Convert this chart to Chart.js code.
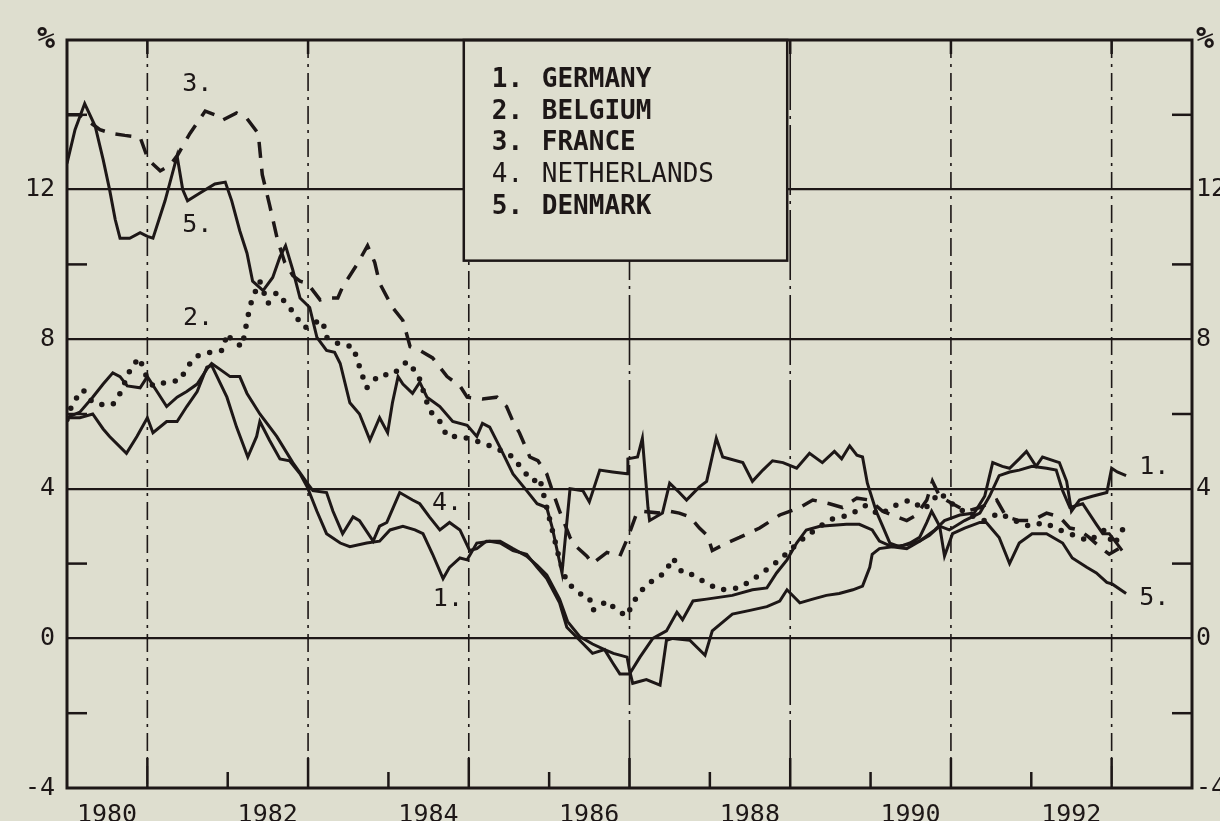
<!DOCTYPE html>
<html>
<head>
<meta charset="utf-8">
<script src="https://cdn.jsdelivr.net/npm/chart.js@4.4.1/dist/chart.umd.min.js"></script>
<style>
  html, body { margin: 0; padding: 0; background: #dedecf; }
  #wrap { width: 1220px; height: 821px; }
</style>
</head>
<body>
<div id="wrap"><canvas id="chart" width="1220" height="821"></canvas></div>
<script>
// [year, %] pairs
const germany = [
  [1980.00, 5.9], [1980.16, 5.9], [1980.32, 6.0], [1980.45, 5.6], [1980.53, 5.4], [1980.74, 4.95],
  [1980.87, 5.4], [1981.00, 5.9], [1981.07, 5.5], [1981.24, 5.8], [1981.37, 5.8], [1981.49, 6.2],
  [1981.62, 6.6], [1981.74, 7.25], [1981.80, 7.3], [1981.99, 6.45], [1982.11, 5.65], [1982.25, 4.85],
  [1982.36, 5.4], [1982.40, 5.8], [1982.52, 5.3], [1982.65, 4.8], [1982.77, 4.75], [1982.90, 4.4],
  [1982.99, 4.05], [1983.11, 3.4], [1983.23, 2.8], [1983.40, 2.55], [1983.52, 2.45], [1983.73, 2.55],
  [1983.89, 2.6], [1984.02, 2.9], [1984.18, 3.0], [1984.33, 2.9], [1984.43, 2.8], [1984.55, 2.25],
  [1984.68, 1.6], [1984.76, 1.9], [1984.89, 2.15], [1984.98, 2.1], [1985.10, 2.55], [1985.26, 2.6],
  [1985.39, 2.55], [1985.55, 2.35], [1985.72, 2.25], [1985.85, 1.9], [1985.97, 1.6], [1986.13, 0.95],
  [1986.22, 0.3], [1986.38, -0.05], [1986.54, -0.4], [1986.69, -0.3], [1986.79, -0.65], [1986.88, -0.95],
  [1987.00, -0.95], [1987.13, -0.5], [1987.29, 0.0], [1987.46, 0.2], [1987.59, 0.7], [1987.66, 0.5],
  [1987.79, 1.0], [1987.96, 1.05], [1988.28, 1.15], [1988.53, 1.3], [1988.71, 1.35], [1988.83, 1.75],
  [1988.96, 2.1], [1989.08, 2.55], [1989.20, 2.9], [1989.37, 3.0], [1989.70, 3.05], [1989.86, 3.05],
  [1990.02, 2.9], [1990.11, 2.6], [1990.27, 2.45], [1990.45, 2.4], [1990.61, 2.6], [1990.80, 2.9],
  [1990.92, 3.15], [1991.11, 3.3], [1991.29, 3.35], [1991.42, 3.8], [1991.52, 4.7], [1991.64, 4.6],
  [1991.73, 4.55], [1991.85, 4.8], [1991.94, 5.0], [1992.06, 4.6], [1992.14, 4.85], [1992.35, 4.7],
  [1992.44, 4.2], [1992.50, 3.4], [1992.60, 3.7], [1992.76, 3.8], [1992.94, 3.9], [1993.00, 4.55],
  [1993.07, 4.45], [1993.18, 4.35]
];

const belgium = [
  [1980.00, 5.85], [1980.07, 6.3], [1980.20, 6.65], [1980.32, 6.3], [1980.45, 6.25], [1980.57, 6.25],
  [1980.66, 6.55], [1980.81, 7.3], [1980.91, 7.5], [1980.95, 7.15], [1981.07, 6.75], [1981.24, 6.85],
  [1981.41, 6.9], [1981.49, 7.25], [1981.62, 7.55], [1981.78, 7.65], [1981.94, 7.7], [1981.99, 8.15],
  [1982.06, 7.95], [1982.18, 7.8], [1982.25, 8.6], [1982.30, 9.05], [1982.40, 9.55], [1982.50, 8.95],
  [1982.61, 9.25], [1982.77, 8.85], [1982.90, 8.45], [1982.96, 8.3], [1983.08, 8.45], [1983.18, 8.5],
  [1983.23, 8.05], [1983.40, 7.85], [1983.56, 7.8], [1983.68, 7.0], [1983.73, 6.7], [1983.89, 7.05],
  [1984.05, 7.05], [1984.23, 7.4], [1984.37, 7.05], [1984.51, 6.1], [1984.64, 5.8], [1984.73, 5.4],
  [1984.89, 5.4], [1985.07, 5.3], [1985.26, 5.15], [1985.42, 5.0], [1985.55, 4.85], [1985.67, 4.5],
  [1985.80, 4.2], [1985.88, 4.3], [1986.01, 3.15], [1986.13, 2.1], [1986.22, 1.5], [1986.38, 1.2],
  [1986.50, 1.1], [1986.54, 0.75], [1986.72, 1.0], [1986.84, 0.75], [1986.97, 0.6], [1987.04, 0.95],
  [1987.16, 1.3], [1987.29, 1.55], [1987.44, 1.75], [1987.54, 2.15], [1987.66, 1.75], [1987.79, 1.7],
  [1987.94, 1.5], [1988.12, 1.3], [1988.37, 1.35], [1988.62, 1.7], [1988.87, 2.1], [1989.12, 2.6],
  [1989.37, 3.0], [1989.53, 3.2], [1989.74, 3.3], [1989.93, 3.55], [1990.11, 3.3], [1990.30, 3.55],
  [1990.49, 3.7], [1990.67, 3.45], [1990.86, 3.9], [1991.04, 3.55], [1991.23, 3.3], [1991.42, 3.15],
  [1991.60, 3.35], [1991.79, 3.15], [1991.98, 3.0], [1992.16, 3.1], [1992.35, 2.9], [1992.54, 2.75],
  [1992.72, 2.6], [1992.91, 2.9], [1993.03, 2.5], [1993.16, 3.0]
];

const france = [
  [1980.00, 14.0], [1980.16, 14.0], [1980.41, 13.6], [1980.56, 13.5], [1980.72, 13.45], [1980.91, 13.4],
  [1981.01, 12.8], [1981.16, 12.5], [1981.28, 12.65], [1981.37, 12.9], [1981.53, 13.5], [1981.72, 14.1],
  [1981.84, 14.0], [1981.93, 13.85], [1982.11, 14.05], [1982.24, 13.9], [1982.38, 13.5], [1982.43, 12.4],
  [1982.52, 11.6], [1982.62, 10.65], [1982.71, 10.05], [1982.81, 9.7], [1982.90, 9.55], [1982.99, 9.5],
  [1983.15, 9.05], [1983.23, 9.1], [1983.37, 9.1], [1983.43, 9.4], [1983.61, 10.0], [1983.74, 10.5],
  [1983.83, 10.05], [1983.89, 9.5], [1984.05, 8.85], [1984.18, 8.5], [1984.27, 7.8], [1984.39, 7.7],
  [1984.55, 7.5], [1984.73, 7.0], [1984.89, 6.75], [1984.98, 6.45], [1985.17, 6.4], [1985.35, 6.45],
  [1985.47, 6.2], [1985.55, 5.8], [1985.63, 5.5], [1985.76, 4.85], [1985.86, 4.75], [1985.97, 4.4],
  [1986.04, 3.95], [1986.13, 3.4], [1986.26, 2.7], [1986.34, 2.45], [1986.47, 2.2], [1986.54, 2.0],
  [1986.72, 2.3], [1986.88, 2.2], [1986.98, 2.7], [1987.09, 3.35], [1987.16, 3.4], [1987.38, 3.35],
  [1987.50, 3.4], [1987.62, 3.35], [1987.75, 3.25], [1987.87, 2.95], [1987.97, 2.75], [1988.03, 2.35],
  [1988.21, 2.55], [1988.37, 2.7], [1988.62, 2.95], [1988.87, 3.3], [1989.12, 3.5], [1989.28, 3.7],
  [1989.49, 3.6], [1989.65, 3.5], [1989.83, 3.75], [1989.99, 3.7], [1990.15, 3.4], [1990.27, 3.3],
  [1990.45, 3.15], [1990.57, 3.3], [1990.70, 3.7], [1990.77, 4.2], [1990.86, 3.8], [1991.02, 3.6],
  [1991.19, 3.4], [1991.36, 3.5], [1991.57, 3.7], [1991.69, 3.25], [1991.85, 3.15], [1992.01, 3.15],
  [1992.19, 3.35], [1992.35, 3.25], [1992.48, 2.95], [1992.60, 2.9], [1992.72, 2.7], [1992.85, 2.45],
  [1992.97, 2.25], [1993.13, 2.45]
];

const netherlands = [
  [1980.00, 5.9], [1980.16, 6.05], [1980.32, 6.45], [1980.45, 6.8], [1980.57, 7.1], [1980.66, 7.0],
  [1980.75, 6.75], [1980.91, 6.7], [1981.00, 7.0], [1981.12, 6.6], [1981.24, 6.2], [1981.37, 6.45],
  [1981.49, 6.6], [1981.62, 6.8], [1981.74, 7.2], [1981.80, 7.35], [1981.90, 7.2], [1982.03, 7.0],
  [1982.15, 7.0], [1982.24, 6.55], [1982.40, 6.0], [1982.61, 5.4], [1982.81, 4.7], [1982.99, 4.15],
  [1983.06, 3.95], [1983.23, 3.9], [1983.31, 3.4], [1983.43, 2.8], [1983.56, 3.25], [1983.64, 3.15],
  [1983.81, 2.6], [1983.89, 3.0], [1983.98, 3.1], [1984.14, 3.9], [1984.30, 3.7], [1984.39, 3.6],
  [1984.51, 3.25], [1984.64, 2.9], [1984.76, 3.1], [1984.89, 2.9], [1985.01, 2.35], [1985.10, 2.4],
  [1985.22, 2.6], [1985.39, 2.6], [1985.55, 2.4], [1985.72, 2.2], [1985.85, 1.95], [1985.97, 1.7],
  [1986.13, 1.05], [1986.23, 0.45], [1986.38, 0.05], [1986.54, -0.15], [1986.69, -0.3], [1986.80, -0.4],
  [1986.97, -0.5], [1987.00, -0.85], [1987.04, -1.2], [1987.21, -1.1], [1987.38, -1.25], [1987.46, -0.05],
  [1987.54, 0.0], [1987.75, -0.05], [1987.94, -0.45], [1988.03, 0.2], [1988.28, 0.65], [1988.50, 0.75],
  [1988.71, 0.85], [1988.87, 1.0], [1988.96, 1.3], [1989.12, 0.95], [1989.28, 1.05], [1989.45, 1.15],
  [1989.61, 1.2], [1989.78, 1.3], [1989.90, 1.4], [1989.99, 1.9], [1990.02, 2.25], [1990.11, 2.4],
  [1990.27, 2.45], [1990.45, 2.5], [1990.61, 2.6], [1990.73, 2.75], [1990.86, 3.0], [1990.98, 2.9],
  [1991.17, 3.15], [1991.36, 3.35], [1991.48, 3.8], [1991.60, 4.35], [1991.73, 4.45], [1991.85, 4.5],
  [1992.01, 4.6], [1992.19, 4.55], [1992.31, 4.5], [1992.39, 3.95], [1992.48, 3.5], [1992.64, 3.6],
  [1992.81, 3.05], [1992.89, 2.8], [1992.97, 2.8], [1993.06, 2.55], [1993.13, 2.35]
];

const denmark = [
  [1980.00, 12.7], [1980.10, 13.6], [1980.22, 14.3], [1980.35, 13.7], [1980.45, 12.8], [1980.53, 12.0],
  [1980.60, 11.2], [1980.66, 10.7], [1980.78, 10.7], [1980.91, 10.85], [1981.00, 10.75], [1981.07, 10.7],
  [1981.22, 11.7], [1981.37, 12.9], [1981.44, 12.0], [1981.50, 11.7], [1981.65, 11.9], [1981.84, 12.15],
  [1981.97, 12.2], [1982.05, 11.7], [1982.15, 10.9], [1982.24, 10.3], [1982.31, 9.55], [1982.44, 9.3],
  [1982.56, 9.65], [1982.65, 10.2], [1982.72, 10.5], [1982.81, 9.85], [1982.90, 9.1], [1983.02, 8.85],
  [1983.11, 8.05], [1983.23, 7.7], [1983.33, 7.65], [1983.40, 7.35], [1983.52, 6.3], [1983.64, 6.0],
  [1983.77, 5.3], [1983.89, 5.9], [1983.99, 5.5], [1984.05, 6.3], [1984.12, 7.0], [1984.18, 6.8],
  [1984.30, 6.55], [1984.39, 6.85], [1984.48, 6.45], [1984.64, 6.2], [1984.80, 5.8], [1984.98, 5.7],
  [1985.10, 5.4], [1985.17, 5.75], [1985.26, 5.65], [1985.39, 5.1], [1985.55, 4.4], [1985.72, 3.95],
  [1985.85, 3.6], [1985.97, 3.5], [1986.04, 2.95], [1986.16, 1.75], [1986.26, 4.0], [1986.42, 3.95],
  [1986.50, 3.65], [1986.63, 4.5], [1986.79, 4.45], [1986.97, 4.4], [1986.98, 4.8], [1987.10, 4.85],
  [1987.16, 5.35], [1987.23, 3.5], [1987.25, 3.15], [1987.41, 3.35], [1987.50, 4.15], [1987.62, 3.9],
  [1987.71, 3.7], [1987.87, 4.05], [1987.96, 4.2], [1988.08, 5.35], [1988.16, 4.85], [1988.41, 4.7],
  [1988.53, 4.2], [1988.66, 4.5], [1988.78, 4.75], [1988.91, 4.7], [1989.08, 4.55], [1989.24, 4.95],
  [1989.40, 4.7], [1989.55, 5.0], [1989.64, 4.8], [1989.74, 5.15], [1989.83, 4.9], [1989.90, 4.85],
  [1989.96, 4.15], [1990.07, 3.4], [1990.15, 3.0], [1990.24, 2.55], [1990.36, 2.45], [1990.49, 2.55],
  [1990.61, 2.7], [1990.70, 3.1], [1990.76, 3.4], [1990.86, 3.0], [1990.92, 2.2], [1991.02, 2.8],
  [1991.17, 2.95], [1991.36, 3.1], [1991.44, 3.1], [1991.60, 2.7], [1991.73, 2.0], [1991.85, 2.55],
  [1992.01, 2.8], [1992.19, 2.8], [1992.39, 2.55], [1992.51, 2.15], [1992.69, 1.9], [1992.81, 1.75],
  [1992.94, 1.5], [1993.01, 1.45], [1993.18, 1.2]
];

const legendNames = ['GERMANY', 'BELGIUM', 'FRANCE', 'NETHERLANDS', 'DENMARK'];
const yearLabels = [1980, 1982, 1984, 1986, 1988, 1990, 1992];

// curve numbers written next to the lines
const curveMarks = [
  { text: '3.', x: 1981.62, y: 14.8 },
  { text: '5.', x: 1981.62, y: 11.05 },
  { text: '2.', x: 1981.63, y: 8.55 },
  { text: '4.', x: 1984.73, y: 3.6 },
  { text: '1.', x: 1984.74, y: 1.05 },
  { text: '1.', x: 1993.53, y: 4.57 },
  { text: '5.', x: 1993.53, y: 1.07 }
];

const ink = '#1d1717';
const paper = '#dedecf';
const mono = '"DejaVu Sans Mono", monospace';

const toXY = arr => arr.map(p => ({ x: p[0], y: p[1] }));

const solid = { borderWidth: 3, borderDash: [] };
const datasets = [
  { label: 'Germany', data: toXY(germany), ...solid },
  { label: 'Belgium', data: toXY(belgium), borderWidth: 5.5, borderDash: [0, 12], borderCapStyle: 'round' },
  { label: 'France', data: toXY(france), borderWidth: 3.5, borderDash: [16, 11] },
  { label: 'Netherlands', data: toXY(netherlands), ...solid },
  { label: 'Denmark', data: toXY(denmark), ...solid }
].map(d => ({ ...d, borderColor: ink, pointRadius: 0, tension: 0, fill: false }));

const framePlugin = {
  id: 'frame',
  beforeDatasetsDraw(chart) {
    const { ctx, chartArea: a, scales: { x, y } } = chart;
    const seg = (x1, y1, x2, y2) => { ctx.beginPath(); ctx.moveTo(x1, y1); ctx.lineTo(x2, y2); ctx.stroke(); };
    ctx.save();
    ctx.strokeStyle = ink;
    ctx.lineCap = 'butt';

    // dash-dot verticals at the odd years
    ctx.lineWidth = 1.6;
    for (let yr = 1981; yr < 1994; yr += 2) {
      const px = x.getPixelForValue(yr);
      ctx.setLineDash(yr === 1987 || yr === 1989 ? [70, 6, 3, 6] : [18, 6, 3, 6]);
      seg(px, a.top, px, a.bottom);
    }
    ctx.setLineDash([]);

    // inward tick marks
    ctx.lineWidth = 2.5;
    for (let yr = 1981; yr < 1994; yr++) {
      const px = x.getPixelForValue(yr);
      seg(px, a.bottom, px, a.bottom - (yr % 2 ? 30 : 16));
      if (yr % 2) seg(px, a.top, px, a.top + 14);
    }
    for (let v = -2; v < 16; v += 4) {
      const py = y.getPixelForValue(v);
      seg(a.left, py, a.left + 20, py);
      seg(a.right, py, a.right - 20, py);
    }

    // legend box
    const bx1 = x.getPixelForValue(1985) - 5, bx2 = x.getPixelForValue(1989) - 3;
    const by1 = a.top, by2 = y.getPixelForValue(10.1);
    ctx.fillStyle = paper;
    ctx.fillRect(bx1, by1, bx2 - bx1, by2 - by1);
    ctx.lineWidth = 2.5;
    ctx.strokeRect(bx1, by1, bx2 - bx1, by2 - by1);
    ctx.fillStyle = ink;
    ctx.textBaseline = 'middle';
    ctx.textAlign = 'left';
    legendNames.forEach((name, i) => {
      const weight = name === 'NETHERLANDS' ? 'normal' : 'bold';
      ctx.font = `${weight} 26px ${mono}`;
      const ty = by1 + 40 + i * 31.8;
      ctx.fillText(`${i + 1}.`, bx1 + 28, ty);
      ctx.fillText(name, bx1 + 78, ty);
    });

    // outer frame
    ctx.lineWidth = 3;
    ctx.strokeRect(a.left, a.top, a.width, a.height);
    ctx.restore();
  },
  afterDatasetsDraw(chart) {
    const { ctx, scales: { x, y } } = chart;
    ctx.save();
    ctx.fillStyle = ink;
    ctx.font = `25px ${mono}`;
    ctx.textAlign = 'center';
    ctx.textBaseline = 'middle';
    curveMarks.forEach(m => ctx.fillText(m.text, x.getPixelForValue(m.x), y.getPixelForValue(m.y)));
    ctx.restore();
  }
};

const yTick = v => (v === 16 ? '%' : v % 4 === 0 ? String(v) : '');
const tickFont = { family: mono, size: 25 };
const yFont = c => (c.tick && c.tick.value === 16 ? { family: mono, size: 30, weight: 'bold' } : tickFont);

new Chart(document.getElementById('chart'), {
  type: 'line',
  data: { datasets },
  options: {
    responsive: false,
    animation: false,
    devicePixelRatio: 1,
    layout: { padding: { top: 40, left: 0, right: 0, bottom: 0 } },
    plugins: { legend: { display: false }, tooltip: { enabled: false } },
    scales: {
      x: {
        type: 'linear',
        min: 1980,
        max: 1994,
        afterFit: s => { s.height = 33; },
        grid: { display: false, drawTicks: false },
        border: { display: false },
        ticks: {
          stepSize: 1,
          autoSkip: false,
          maxRotation: 0,
          padding: 12,
          labelOffset: 40,
          color: ink,
          font: tickFont,
          callback: v => (yearLabels.includes(v) ? String(v) : '')
        }
      },
      y: {
        position: 'left',
        min: -4,
        max: 16,
        afterFit: s => { s.width = 67; },
        grid: {
          drawTicks: false,
          lineWidth: 2.2,
          color: c => (c.tick.value % 4 === 0 && c.tick.value > -4 && c.tick.value < 16 ? ink : 'rgba(0,0,0,0)')
        },
        border: { display: false },
        ticks: { stepSize: 2, padding: 12, color: ink, font: yFont, callback: yTick }
      },
      y2: {
        position: 'right',
        min: -4,
        max: 16,
        afterFit: s => { s.width = 28; },
        grid: { display: false, drawTicks: false },
        border: { display: false },
        ticks: { stepSize: 2, padding: 4, color: ink, font: yFont, callback: yTick }
      }
    }
  },
  plugins: [framePlugin]
});
</script>
</body>
</html>
